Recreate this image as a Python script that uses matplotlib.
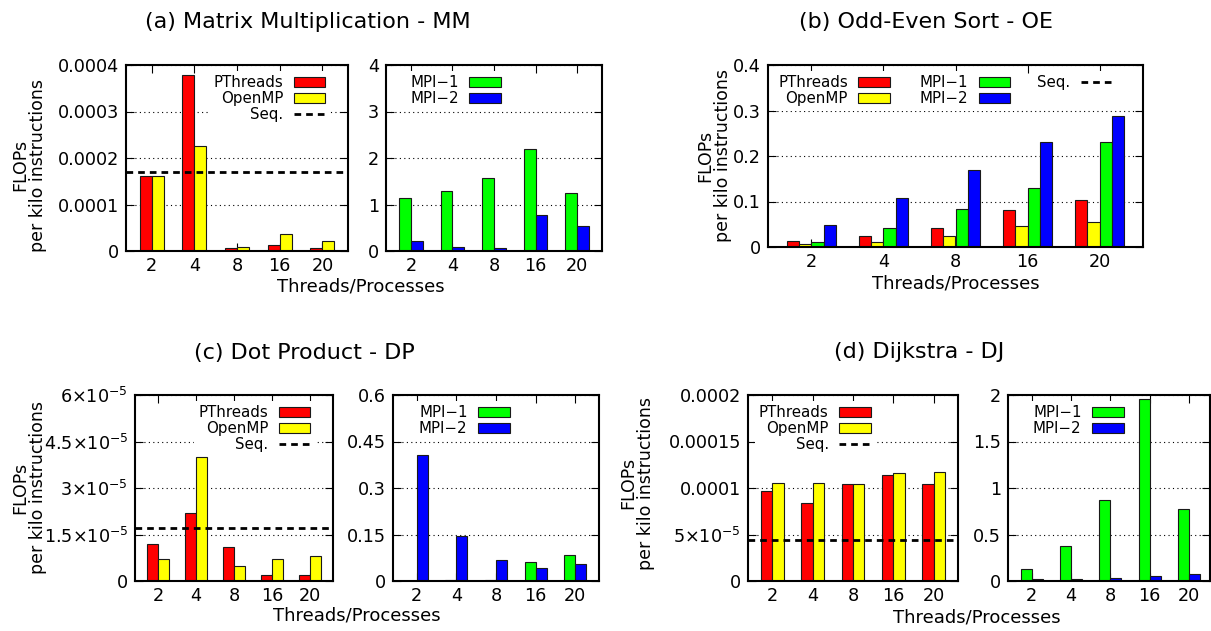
import numpy as np
import matplotlib
matplotlib.use("Agg")
import matplotlib.pyplot as plt
from matplotlib.patches import Patch
from matplotlib.lines import Line2D

plt.rcParams['font.family'] = ['DejaVu Sans']
plt.rcParams['mathtext.default'] = 'regular'

W, H = 1211, 631

# data
threads = ["2", "4", "8", "16", "20"]

mm_pthreads = [1.62e-4, 3.78e-4, 0.7e-5, 1.2e-5, 0.55e-5]
mm_openmp = [1.62e-4, 2.25e-4, 0.9e-5, 3.6e-5, 2.1e-5]
mm_seq = 1.70e-4
mm_mpi1 = [1.15, 1.30, 1.56, 2.20, 1.24]
mm_mpi2 = [0.21, 0.08, 0.057, 0.77, 0.545]

oe_pthreads = [0.0125, 0.0234, 0.0418, 0.0813, 0.1026]
oe_openmp = [0.006, 0.0117, 0.0234, 0.0454, 0.0542]
oe_mpi1 = [0.0103, 0.041, 0.0842, 0.129, 0.23]
oe_mpi2 = [0.0476, 0.107, 0.1685, 0.23, 0.287]
oe_seq = 0.0002

dp_pthreads = [1.2e-5, 2.2e-5, 1.1e-5, 2.0e-6, 2.0e-6]
dp_openmp = [7.0e-6, 4.0e-5, 5.0e-6, 7.0e-6, 8.0e-6]
dp_seq = 1.7e-5
dp_mpi1 = [0.0, 0.003, 0.003, 0.0625, 0.085]
dp_mpi2 = [0.405, 0.1465, 0.067, 0.043, 0.056]

dj_pthreads = [9.7e-5, 8.4e-5, 1.04e-4, 1.135e-4, 1.04e-4]
dj_openmp = [1.056e-4, 1.056e-4, 1.045e-4, 1.156e-4, 1.17e-4]
dj_seq = 4.4e-5
dj_mpi1 = [0.133, 0.38, 0.876, 1.96, 0.776]
dj_mpi2 = [0.018, 0.02, 0.032, 0.05, 0.072]

RED, YEL, GRN, BLU = '#ff0000', '#ffff00', '#00ff00', '#0000ff'
EDGE = '#1a1a1a'
DASH = (2.4, 1.8)

fig = plt.figure(figsize=(W / 100, H / 100), dpi=100)


def px_axes(x0, y0, x1, y1):
    return fig.add_axes([x0 / W, 1 - y1 / H, (x1 - x0) / W, (y1 - y0) / H])


def style(ax, ticks, labels, xlim=(-0.6, 4.6)):
    ax.set_xlim(*xlim)
    ax.set_ylim(ticks[0], ticks[-1])
    ax.set_xticks(range(len(threads)))
    ax.set_xticklabels(threads)
    ax.set_yticks(ticks)
    ax.set_yticklabels(labels)
    ax.tick_params(direction='in', length=5.8, width=0.8, labelsize=12.7,
                   top=True, right=True, pad=4)
    ax.tick_params(axis='y', pad=5)
    for s in ax.spines.values():
        s.set_linewidth(1.5)
    ax.set_axisbelow(True)
    ax.yaxis.grid(True, color='black', linestyle=(0, (1, 3)), linewidth=0.8)


def pair(ax, a, b, ca, cb, w=0.28):
    x = np.arange(len(threads))
    ax.bar(x - w / 2, a, w, color=ca, edgecolor=EDGE, linewidth=0.8, zorder=2)
    ax.bar(x + w / 2, b, w, color=cb, edgecolor=EDGE, linewidth=0.8, zorder=2)


def seq_line(ax, v):
    ax.axhline(v, color='black', linewidth=2, dashes=DASH, zorder=3)


def legend(ax, handles, labels, x, y, loc, ncol=1):
    lg = ax.legend(handles, labels, loc=loc, bbox_to_anchor=(x / W, 1 - y / H),
                   bbox_transform=fig.transFigure, markerfirst=False, ncol=ncol,
                   fontsize=10.8, frameon=True, facecolor='white', edgecolor='none',
                   framealpha=1, fancybox=False, borderpad=0.3, borderaxespad=0,
                   labelspacing=0.05, handlelength=2.1, handleheight=0.67,
                   handletextpad=0.7, columnspacing=2.0)
    lg.set_zorder(4)
    return lg


def patch(c):
    return Patch(facecolor=c, edgecolor=EDGE, linewidth=0.8)


seq_h = Line2D([], [], color='black', linewidth=2, dashes=DASH)

# (a) Matrix Multiplication
ax = px_axes(126, 65, 348, 251)
pair(ax, mm_pthreads, mm_openmp, RED, YEL)
seq_line(ax, mm_seq)
style(ax, [0, 1e-4, 2e-4, 3e-4, 4e-4], ["0", "0.0001", "0.0002", "0.0003", "0.0004"])
legend(ax, [patch(RED), patch(YEL), seq_h], ["PThreads", "OpenMP", "Seq."],
       329.5, 70.8, 'upper right')

ax = px_axes(386, 65, 602, 251)
pair(ax, mm_mpi1, mm_mpi2, GRN, BLU)
style(ax, [0, 1, 2, 3, 4], ["0", "1", "2", "3", "4"])
legend(ax, [patch(GRN), patch(BLU)], ["MPI\u22121", "MPI\u22122"], 405.5, 70.8, 'upper left')

# (b) Odd-Even Sort
ax = px_axes(768, 65, 1143, 247)
x = np.arange(len(threads))
w = 0.17
for i, (vals, c) in enumerate([(oe_pthreads, RED), (oe_openmp, YEL),
                                (oe_mpi1, GRN), (oe_mpi2, BLU)]):
    ax.bar(x + (i - 1.5) * w, vals, w, color=c, edgecolor=EDGE, linewidth=0.8, zorder=2)
seq_line(ax, oe_seq)
style(ax, [0, 0.1, 0.2, 0.3, 0.4], ["0", "0.1", "0.2", "0.3", "0.4"])
lg = legend(ax, [patch(RED), patch(YEL), patch(GRN), patch(BLU)],
            ["PThreads", "OpenMP", "MPI\u22121", "MPI\u22122"], 773.5, 70.8, 'upper left', ncol=2)
ax.add_artist(lg)
legend(ax, [seq_h], ["Seq."], 1116.5, 70.8, 'upper right')

# (c) Dot Product
ax = px_axes(135, 395, 333, 581)
pair(ax, dp_pthreads, dp_openmp, RED, YEL)
seq_line(ax, dp_seq)
style(ax, [0, 1.5e-5, 3e-5, 4.5e-5, 6e-5],
      ["0", r"$1.5{\times}10^{-5}$", r"$3{\times}10^{-5}$", r"$4.5{\times}10^{-5}$", r"$6{\times}10^{-5}$"])
legend(ax, [patch(RED), patch(YEL), seq_h], ["PThreads", "OpenMP", "Seq."],
       314.5, 400.8, 'upper right')

ax = px_axes(393, 395, 599, 581)
pair(ax, dp_mpi1, dp_mpi2, GRN, BLU)
style(ax, [0, 0.15, 0.3, 0.45, 0.6], ["0", "0.15", "0.3", "0.45", "0.6"])
legend(ax, [patch(GRN), patch(BLU)], ["MPI\u22121", "MPI\u22122"], 414.5, 400.8, 'upper left')

# (d) Dijkstra
ax = px_axes(748, 395, 958, 581)
pair(ax, dj_pthreads, dj_openmp, RED, YEL)
seq_line(ax, dj_seq)
style(ax, [0, 5e-5, 1e-4, 1.5e-4, 2e-4],
      ["0", r"$5{\times}10^{-5}$", "0.0001", "0.00015", "0.0002"])
legend(ax, [patch(RED), patch(YEL), seq_h], ["PThreads", "OpenMP", "Seq."],
       754.5, 400.8, 'upper left')

ax = px_axes(1008, 395, 1210, 581)
pair(ax, dj_mpi1, dj_mpi2, GRN, BLU)
style(ax, [0, 0.5, 1, 1.5, 2], ["0", "0.5", "1", "1.5", "2"], xlim=(-0.6, 4.53))
legend(ax, [patch(GRN), patch(BLU)], ["MPI\u22121", "MPI\u22122"], 1028.5, 400.8, 'upper left')

# titles, axis labels
titles = [("(a) Matrix Multiplication - MM", 308, 22), ("(b) Odd-Even Sort - OE", 926, 22),
          ("(c) Dot Product - DP", 304, 353), ("(d) Dijkstra - DJ", 919, 352)]
for t, tx, ty in titles:
    fig.text(tx / W, 1 - ty / H, t, ha='center', va='center', fontsize=16)

for tx, ty in [(361, 287), (956, 283), (357, 615), (977, 617)]:
    fig.text(tx / W, 1 - ty / H, "Threads/Processes", ha='center', va='center', fontsize=13)

for tx, ty in [(29, 165), (714, 156), (29, 488), (637, 483)]:
    fig.text(tx / W, 1 - ty / H, "FLOPs\nper kilo instructions", ha='center', va='center',
             rotation=90, multialignment='center', fontsize=12.5, linespacing=1.0)

fig.savefig("out.png", dpi=100)
